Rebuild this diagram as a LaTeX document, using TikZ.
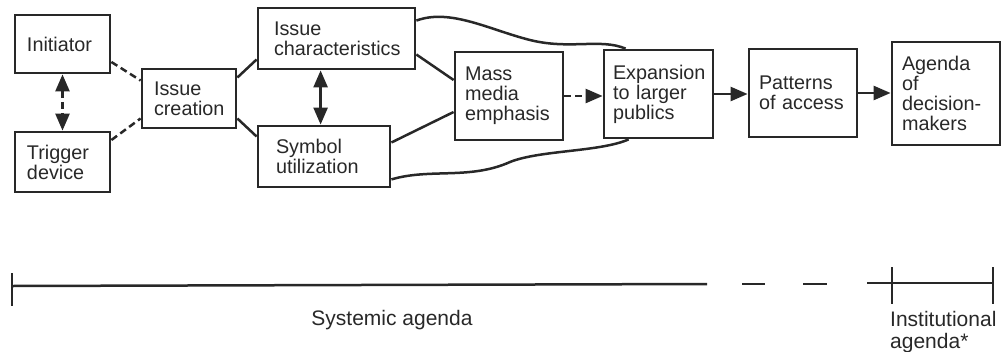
\documentclass[tikz,border=0pt]{standalone}
\usepackage{fontspec}
\setmainfont{Liberation Sans}
\usetikzlibrary{arrows.meta,calc}
\definecolor{ink}{RGB}{40,40,40}
\begin{document}
\begin{tikzpicture}[x=1pt,y=-1pt,
  every node/.style={font={\fontsize{19.8}{20}\selectfont\hyphenpenalty=10000}, text=ink},
  box/.style={draw=ink, line width=2.8pt, align=left, inner ysep=0pt},
  link/.style={draw=ink, line width=2.5pt},
  dlink/.style={link, dash pattern=on 7pt off 4pt},
  tip/.style={-{Triangle[length=17pt,width=14pt]}},
  dtip/.style={{Triangle[length=17pt,width=14pt]}-{Triangle[length=17pt,width=14pt]}},
  lab/.style={font={\fontsize{21}{22}\selectfont}, align=left, inner sep=0pt}
]
\useasboundingbox (0,0) rectangle (1006,351);

\node[box, text width=71pt, inner xsep=12pt, minimum height=58pt] (init) at (62.5,44) {Initiator};
\node[box, text width=71pt, inner xsep=12pt, minimum height=60pt] (trig) at (62.5,162) {Trigger\\device};
\node[box, text width=70pt, inner xsep=12pt, minimum height=59pt] (crea) at (189,98.5) {Issue\\creation};
\node[box, text width=125pt, inner xsep=16pt, minimum height=61pt] (char) at (336.5,38.5) {Issue\\characteristics};
\node[box, text width=96pt, inner xsep=18pt, minimum height=61pt] (symb) at (324,156.5) {Symbol\\utilization};
\node[box, text width=88pt, inner xsep=10pt, minimum height=88pt] (mass) at (509,96) {Mass\\media\\emphasis};
\node[box, text width=91pt, inner xsep=9pt, minimum height=88pt] (expa) at (658.5,94) {Expansion\\to larger\\publics};
\node[box, text width=88pt, inner xsep=10pt, minimum height=88pt] (patt) at (803,93) {Patterns\\of access};
\node[box, text width=88pt, inner xsep=10pt, minimum height=103pt] (agen) at (946,93.5) {Agenda\\of\\decision-\\makers};

% left group
\draw[dlink] ($(init.east)+(0,18)$) -- ($(crea.west)+(0,-18)$);
\draw[dlink] ($(trig.east)+(0,-22)$) -- ($(crea.west)+(0,20)$);
\draw[dlink, dtip] (init.south) -- (trig.north);

\draw[link] ($(crea.east)+(0,-21)$) -- ($(char.west)+(0,21)$);
\draw[link] ($(crea.east)+(0,20)$) -- ($(symb.west)+(0,-20)$);
\draw[link, dtip] ($(char.south west)+(64,0)$) -- ($(symb.north west)+(64,0)$);

\draw[link] ($(char.east)+(0,16)$) -- ($(mass.west)+(0,-16)$);
\draw[link] ($(symb.east)+(0,-14)$) -- ($(mass.west)+(0,16)$);

% curves
\draw[link] ($(char.north east)+(0,14)$) .. controls (450,8) and (490,30) .. (530,40)
  .. controls (570,50) and (600,38) .. ($(expa.north west)+(23,0)$);
\draw[link] ($(symb.south east)+(0,-9)$) .. controls (430,168) and (470,180) .. (510,162)
  .. controls (540,150) and (600,152) .. ($(expa.south west)+(26,0)$);

% arrows
\draw[dlink, tip] (mass.east) -- (mass.east -| expa.west);
\draw[link, tip] (expa.east) -- (expa.east -| patt.west);
\draw[link, tip] (patt.east) -- (patt.east -| agen.west);

% timeline
\coordinate (t0) at (12,286);
\coordinate (t1) at (707,284);
\coordinate (d1a) at (742,284);
\coordinate (d1b) at (765,284);
\coordinate (d2a) at (803,284);
\coordinate (d2b) at (827,284);
\coordinate (i0) at (867,283);
\coordinate (i1) at (892,283);
\coordinate (i2) at (993,283);
\draw[link] (t0) -- (t1);
\draw[link] (d1a) -- (d1b);
\draw[link] (d2a) -- (d2b);
\draw[link] (i0) -- (i2);
\draw[link] ($(t0)+(0,-13)$) -- ($(t0)+(0,20)$);
\draw[link] ($(i1)+(0,-16)$) -- ($(i1)+(0,21)$);
\draw[link] ($(i2)+(0,-16)$) -- ($(i2)+(0,21)$);

\node[lab, anchor=base] (sys) at (392,325) {Systemic agenda};
\node[lab, anchor=north west] (inst) at (890,311) {Institutional\\agenda*};
\end{tikzpicture}
\end{document}
